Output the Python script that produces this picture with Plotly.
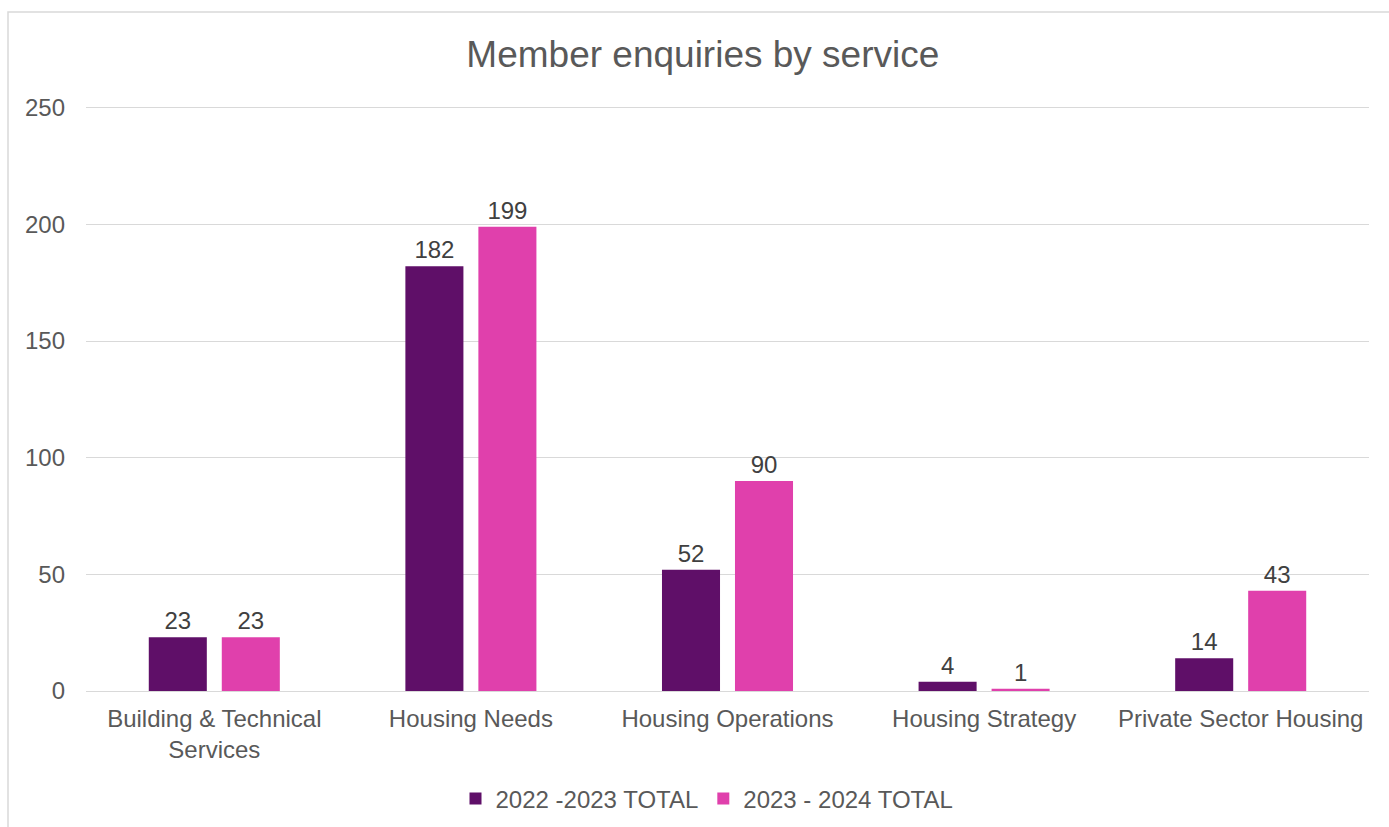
import plotly.graph_objects as go

categories = ["Building & Technical<br>Services", "Housing Needs", "Housing Operations",
              "Housing Strategy", "Private Sector Housing"]
series_names = ["2022 -2023 TOTAL", "2023 - 2024 TOTAL"]
values_2022 = [23, 182, 52, 4, 14]
values_2023 = [23, 199, 90, 1, 43]
colors = ["#5f0f68", "#e040ac"]
y_ticks = [0, 50, 100, 150, 200, 250]

W, H = 1389, 827
L, R, T, B = 86, 20, 103, 136
pw, ph = W - L - R, H - T - B
FONT = "Liberation Sans, Arial"

fig = go.Figure()
for name, vals, col in zip(series_names, [values_2022, values_2023], colors):
    fig.add_trace(go.Bar(
        x=categories, y=vals, name=name, marker=dict(color=col, line=dict(width=0)),
        text=[str(v) for v in vals], textposition="outside",
        textfont=dict(family=FONT, size=24, color="#404040"),
        cliponaxis=False,
    ))

fig.update_layout(
    width=W, height=H,
    margin=dict(l=L, r=R, t=T, b=B, autoexpand=False),
    paper_bgcolor="white", plot_bgcolor="white",
    barmode="group", bargap=0.431, bargroupgap=0.205,
    title=dict(text="Member enquiries by service", x=0.506, xanchor="center",
               y=1 - 54 / H, yanchor="middle",
               font=dict(family=FONT, size=37, color="#595959")),
    font=dict(family=FONT, color="#595959"),
    legend=dict(orientation="h", xref="container", yref="container",
                x=707 / W, xanchor="center", y=1 - 799 / H, yanchor="middle",
                font=dict(size=24, color="#595959"), itemwidth=30,
                traceorder="normal"),
    xaxis=dict(showline=False, ticks="", tickfont=dict(size=24, color="#595959"),
               showgrid=False, automargin=False, ticklabelstandoff=11),
    yaxis=dict(range=[0, 252], tickvals=y_ticks, showgrid=True, gridcolor="#d9d9d9",
               gridwidth=1, zeroline=True, zerolinecolor="#d9d9d9", zerolinewidth=1,
               ticks="", tickfont=dict(size=24, color="#595959"), ticklabelstandoff=20,
               automargin=False),
    shapes=[dict(type="rect", xref="paper", yref="paper",
                 x0=(8 - L) / pw, x1=(1400 - L) / pw,
                 y0=(691 - 840) / ph, y1=(691 - 12) / ph,
                 line=dict(color="#d9d9d9", width=1.5), fillcolor="rgba(0,0,0,0)",
                 layer="below")],
)

fig.write_html("out.html")
